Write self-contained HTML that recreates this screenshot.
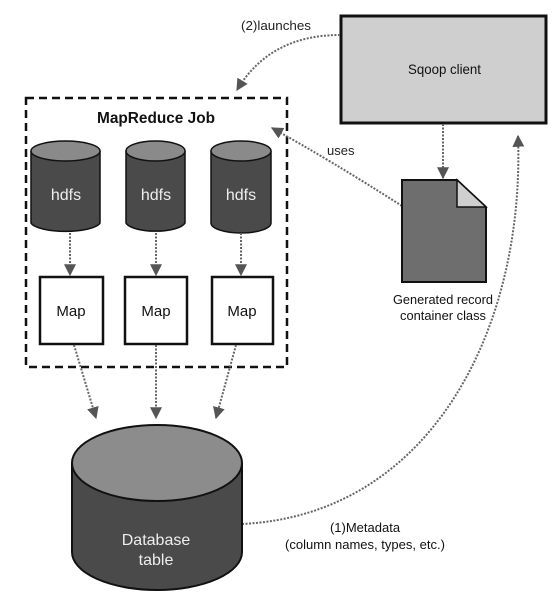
<!DOCTYPE html>
<html><head><style>
body{margin:0;background:#fff;}
svg{display:block;font-family:"Liberation Sans Narrow","Liberation Sans",sans-serif;}
</style></head><body>
<svg width="554" height="599" viewBox="0 0 554 599" xmlns="http://www.w3.org/2000/svg">
<defs>
<marker id="b" markerWidth="12" markerHeight="12" refX="9" refY="5" orient="auto" markerUnits="userSpaceOnUse" viewBox="0 0 10 10">
<path d="M0,0 L10,5 L0,10 Z" fill="#555"/>
</marker>
</defs>
<rect x="341" y="16" width="205" height="107" fill="#cfcfcf" stroke="#111" stroke-width="3"/>
<text x="408" y="74" font-size="14" textLength="73" lengthAdjust="spacingAndGlyphs" fill="#111">Sqoop client</text>
<text x="241" y="30" font-size="13" textLength="70" lengthAdjust="spacingAndGlyphs" fill="#222">(2)launches</text>
<rect x="26" y="98" width="261" height="269" fill="none" stroke="#111" stroke-width="2.5" stroke-dasharray="8,5"/>
<text x="97" y="123" font-size="16" font-weight="bold" textLength="118" lengthAdjust="spacingAndGlyphs" fill="#111">MapReduce Job</text>
<g stroke="#111" stroke-width="1.5">
<path d="M31,151 v72 a35,10 0 0 0 69,0 v-72" fill="#4a4a4a"/><ellipse cx="65.5" cy="151" rx="34.5" ry="10" fill="#8a8a8a"/>
<path d="M126,151 v72 a30,10 0 0 0 59,0 v-72" fill="#4a4a4a"/><ellipse cx="155.5" cy="151" rx="29.5" ry="10" fill="#8a8a8a"/>
<path d="M211,151 v72 a30,10 0 0 0 60,0 v-72" fill="#4a4a4a"/><ellipse cx="241" cy="151" rx="30" ry="10" fill="#8a8a8a"/>
</g>
<g font-size="16" fill="#eee" text-anchor="middle">
<text x="66" y="200">hdfs</text><text x="156" y="200">hdfs</text><text x="241" y="200">hdfs</text>
</g>
<g fill="#fff" stroke="#111" stroke-width="2.5">
<rect x="40" y="277" width="63" height="67"/><rect x="125" y="277" width="62" height="67"/><rect x="212" y="277" width="61" height="67"/>
</g>
<g font-size="15" fill="#111" text-anchor="middle">
<text x="71" y="316">Map</text><text x="156" y="316">Map</text><text x="242" y="316">Map</text>
</g>
<g stroke="#666" stroke-width="2" stroke-dasharray="2,1.5" fill="none" marker-end="url(#b)">
<line x1="70" y1="233" x2="70" y2="275"/>
<line x1="156" y1="233" x2="156" y2="275"/>
<line x1="241" y1="233" x2="241" y2="275"/>
<line x1="74" y1="345" x2="96" y2="418"/>
<line x1="156" y1="345" x2="156" y2="418"/>
<line x1="236" y1="345" x2="216" y2="418"/>
<line x1="443" y1="124" x2="443" y2="178"/>
<path d="M340,35 Q270,35 237,90"/>
<path d="M402,206 Q330,160 272,128"/>
<path d="M242,524 C430,515 525,330 518,136"/>
</g>
<text x="327" y="155" font-size="13" fill="#222">uses</text>
<path d="M402,180 H457 L486,207 V282 H402 Z" fill="#6e6e6e" stroke="#111" stroke-width="2"/>
<path d="M457,180 V207 H486 Z" fill="#cfcfcf" stroke="#111" stroke-width="1.5"/>
<text x="443" y="304" font-size="13" text-anchor="middle" textLength="100" lengthAdjust="spacingAndGlyphs" fill="#111">Generated record</text>
<text x="443" y="320" font-size="13" text-anchor="middle" textLength="86" lengthAdjust="spacingAndGlyphs" fill="#111">container class</text>
<path d="M72,463 V552 A85,38 0 0 0 242,552 V463" fill="#4a4a4a" stroke="#111" stroke-width="2"/>
<ellipse cx="157" cy="463" rx="85" ry="38" fill="#8c8c8c" stroke="#111" stroke-width="2"/>
<text x="156" y="545" font-size="16" text-anchor="middle" fill="#eee">Database</text>
<text x="156" y="565" font-size="16" text-anchor="middle" fill="#eee">table</text>
<text x="365" y="532" font-size="13" text-anchor="middle" fill="#111">(1)Metadata</text>
<text x="365" y="549" font-size="13" text-anchor="middle" textLength="160" lengthAdjust="spacingAndGlyphs" fill="#111">(column names, types, etc.)</text>
</svg>
</body></html>
